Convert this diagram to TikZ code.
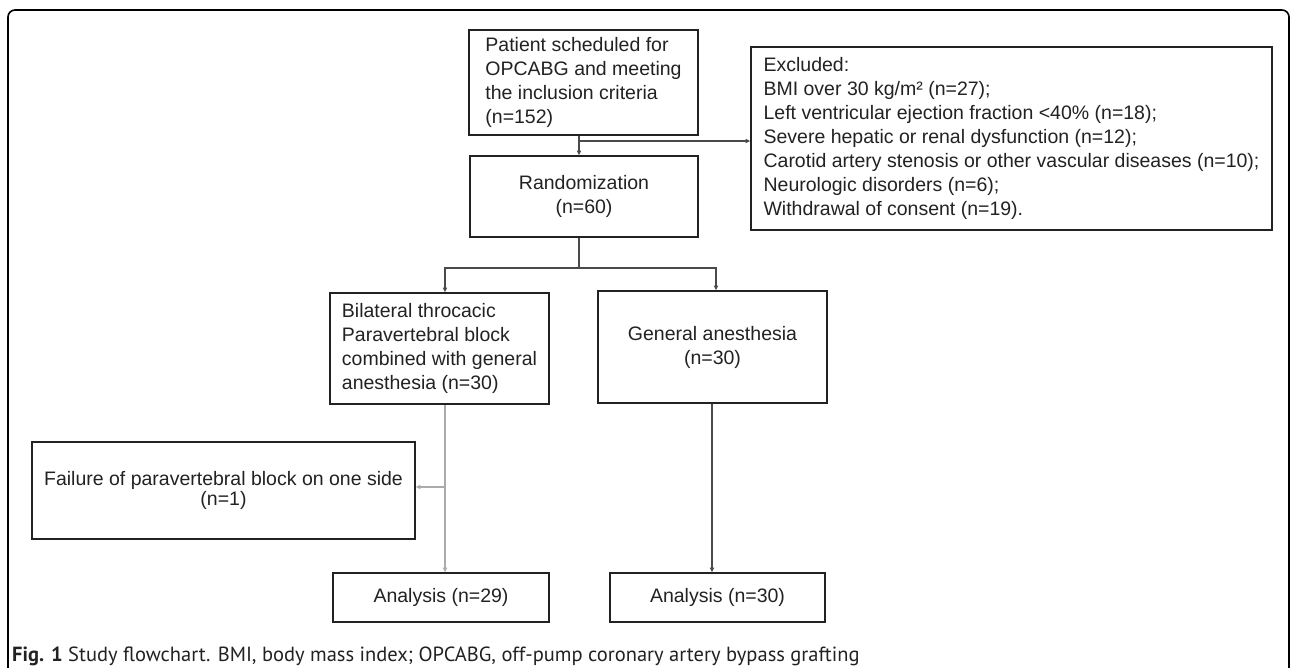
\documentclass[tikz,border=0pt]{standalone}
\usepackage{xcolor}
\usepackage{tikz, tkz-euclide}
\usetikzlibrary{calc, arrows.meta}
\usepackage{fontspec}
\setmainfont{Liberation Sans}
\newfontfamily\capfont{PT Sans}

\definecolor{ink}{HTML}{222222}
\definecolor{wire}{HTML}{4A4A4A}
\definecolor{pale}{HTML}{ABABAB}
\tikzset{
  box/.style={draw=ink, line width=1.6pt, text=ink, inner sep=0pt,
    font=\fontsize{19.5}{24}\selectfont},
  arr/.style={draw=wire, line width=1.1pt, -{Triangle[length=4.5pt, width=4pt]}},
}

\begin{document}
\begin{tikzpicture}[x=1pt, y=-1pt]
      \useasboundingbox (0,0) rectangle (1290,668);
      \fill[white] (0,0) rectangle (1290,668);
      \begin{scope}
        \clip (0,0) rectangle (1290,668);
        \draw[line width=1.6pt, rounded corners=7pt] (8,700) -- (8,10) -- (1289,10) -- (1289,700);
      \end{scope}

      \tkzDefPoints{583.5/82.5/Pa, 1011.5/138.5/Ex, 584/196.5/Ra, 439.5/348.5/Bi, 712.5/347/Ge}%
      \tkzDefPoints{223.5/490.5/Fa, 441/597.5/An, 717.5/597.5/Am}%
      \tkzDefPoints{579/141/J, 579/268/B, 445/268/L, 716/268/R, 445/487/T, 712/480/D}%

      \node[box, minimum width=229pt, minimum height=105pt, align=left] (pat) at (Pa)
        {Patient scheduled for\\OPCABG and meeting\\the inclusion criteria\\(n=152)};
      \node[box, minimum width=521pt, minimum height=183pt, align=left] (excl) at (Ex)
        {Excluded:\\BMI over 30 kg/m² (n=27);\\Left ventricular ejection fraction <40\% (n=18);\\%
         Severe hepatic or renal dysfunction (n=12);\\Carotid artery stenosis or other vascular diseases (n=10);\\%
         Neurologic disorders (n=6);\\Withdrawal of consent (n=19).};
      \node[box, minimum width=228pt, minimum height=81pt, align=center] (rand) at (Ra)
        {Randomization\\(n=60)};
      \node[box, minimum width=219pt, minimum height=111pt, align=left] (bil) at (Bi)
        {Bilateral throcacic\\Paravertebral block\\combined with general\\anesthesia (n=30)};
      \node[box, minimum width=229pt, minimum height=112pt, align=center] (gen) at (Ge)
        {General anesthesia\\(n=30)};
      \node[box, minimum width=383pt, minimum height=97pt, align=center,
        font=\fontsize{19.5}{20}\selectfont] (fail) at (Fa)
        {Failure of paravertebral block on one side\\(n=1)};
      \node[box, minimum width=216pt, minimum height=49pt] (ana29) at (An) {Analysis (n=29)};
      \node[box, minimum width=215pt, minimum height=49pt] (ana30) at (Am) {Analysis (n=30)};

      \draw[arr] (pat.south -| J) -- (rand.north -| J);
      \draw[arr] (J) -- (excl.west |- J);
      \draw[wire, line width=1.3pt] (rand.south -| B) -- (B);
      \draw[arr] (B) -- (L) -- (bil.north -| L);
      \draw[arr] (B) -- (R) -- (gen.north -| R);
      \draw[arr, draw=pale] (bil.south -| L) -- (ana29.north -| L);
      \draw[arr, draw=pale] (T) -- (fail.east |- T);
      \draw[arr] (gen.south -| D) -- (ana30.north -| D);

      \node[anchor=base west, inner sep=0pt, text=ink, font=\capfont\fontsize{20.5}{24}\selectfont] (cap)
        at (12,661) {\textbf{Fig. 1} Study flowchart. BMI, body mass index; OPCABG, off-pump coronary artery bypass grafting};
    \end{tikzpicture}
\end{document}
